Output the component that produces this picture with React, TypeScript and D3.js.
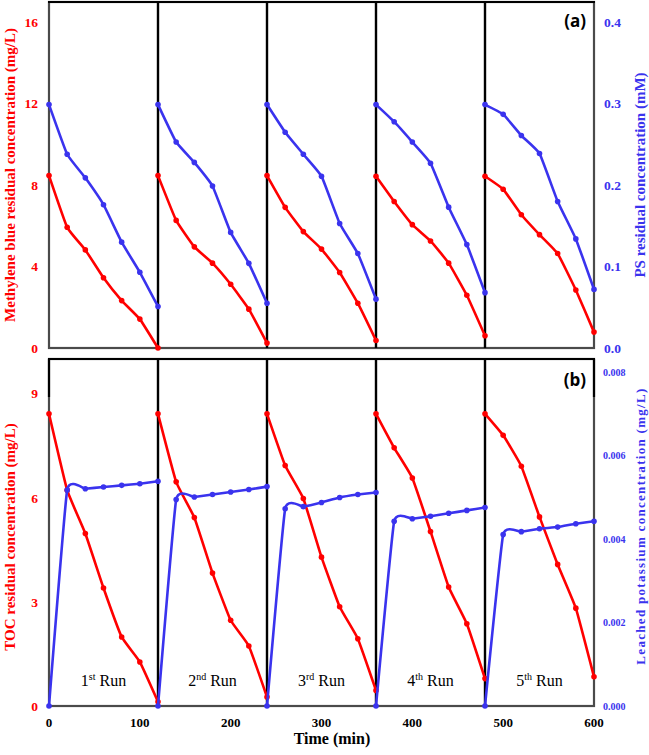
import React from "react";
import * as d3 from "d3";

// time points inside each run (min, relative to run start)
const stepTimes = [0, 20, 40, 60, 80, 100, 120];
const runLength = 120;
const runNumbers = ["1", "2", "3", "4", "5"];
const runSuffix = ["st", "nd", "rd", "th", "th"];

// panel (a)
const mbRuns = [
  [8.47, 5.93, 4.82, 3.45, 2.33, 1.42, 0.0],
  [8.47, 6.27, 4.97, 4.17, 3.13, 1.91, 0.24],
  [8.47, 6.91, 5.72, 4.86, 3.71, 2.2, 0.37],
  [8.44, 7.2, 6.06, 5.26, 4.17, 2.59, 0.6],
  [8.44, 7.8, 6.55, 5.57, 4.64, 2.85, 0.78],
];
const psRuns = [
  [0.299, 0.238, 0.209, 0.176, 0.13, 0.093, 0.051],
  [0.299, 0.253, 0.228, 0.199, 0.142, 0.104, 0.055],
  [0.299, 0.265, 0.238, 0.211, 0.153, 0.116, 0.06],
  [0.299, 0.278, 0.253, 0.227, 0.173, 0.127, 0.068],
  [0.299, 0.287, 0.261, 0.239, 0.18, 0.134, 0.072],
];

// panel (b)
const tocRuns = [
  [8.42, 6.22, 4.97, 3.4, 1.99, 1.27, 0.12],
  [8.42, 6.46, 5.43, 3.83, 2.47, 1.73, 0.26],
  [8.42, 6.93, 5.98, 4.29, 2.86, 1.94, 0.45],
  [8.42, 7.44, 6.57, 5.03, 3.43, 2.37, 0.79],
  [8.42, 7.8, 6.91, 5.45, 4.08, 2.82, 0.84],
];
const kRuns = [
  [0, 0.00518, 0.00521, 0.00525, 0.00529, 0.00533, 0.00539],
  [0, 0.00495, 0.00501, 0.00507, 0.00513, 0.00519, 0.00526],
  [0, 0.00473, 0.00478, 0.00488, 0.005, 0.00507, 0.00512],
  [0, 0.00443, 0.00449, 0.00455, 0.00462, 0.00469, 0.00476],
  [0, 0.00411, 0.00418, 0.00425, 0.00429, 0.00437, 0.00443],
];

const xTicks = [0, 100, 200, 300, 400, 500, 600];
const mbTicks = [0, 4, 8, 12, 16];
const psTicks = [0, 0.1, 0.2, 0.3, 0.4];
const tocTicks = [0, 3, 6, 9];
const kTicks = [0, 0.002, 0.004, 0.006, 0.008];

const RED = "#ff0000";
const BLUE = "#3a33ee";
const SERIF = "'Liberation Serif', 'Times New Roman', serif";
const SANS = "'Open Sans', 'DejaVu Sans', sans-serif";

const W = 649;
const H = 755;
const left = 49;
const right = 594;

const x = d3.scaleLinear().domain([0, 600]).range([left, right]);

const topA = 2;
const botA = 348;
const topB = 359;
const botB = 706;

const yMB = d3.scaleLinear().domain([0, 17]).range([botA, topA]);
const yPS = d3.scaleLinear().domain([0, 0.425]).range([botA, topA]);
const yTOC = d3.scaleLinear().domain([0, 10]).range([botB, topB]);
const yK = d3.scaleLinear().domain([0, 0.00832]).range([botB, topB]);

function Series({ runs, y, color }: { runs: number[][]; y: d3.ScaleLinear<number, number>; color: string }) {
  const line = d3
    .line<[number, number]>()
    .x((d) => x(d[0]))
    .y((d) => y(d[1]))
    .curve(d3.curveCardinal.tension(0.65));
  return (
    <g>
      {runs.map((vals, r) => {
        const pts: [number, number][] = vals.map((v, i) => [r * runLength + stepTimes[i], v]);
        return (
          <g key={r}>
            <path d={line(pts) || ""} fill="none" stroke={color} strokeWidth={2.6} />
            {pts.map((p, i) => (
              <circle key={i} cx={x(p[0])} cy={y(p[1])} r={2.8} fill={color} />
            ))}
          </g>
        );
      })}
    </g>
  );
}

function Frame({ top, bottom, blackSide }: { top: number; bottom: number; blackSide: number }) {
  return (
    <g>
      <rect x={left} y={top} width={right - left} height={bottom - top} fill="none" stroke="#4a4a4a" strokeWidth={2.2} />
      <line x1={left - 1} x2={right + 1} y1={top} y2={top} stroke="#000" strokeWidth={2.2} />
      {blackSide > 0 && (
        <g>
          <line x1={left} x2={left} y1={top} y2={top + blackSide} stroke="#000" strokeWidth={2.2} />
          <line x1={right} x2={right} y1={top} y2={top + blackSide} stroke="#000" strokeWidth={2.2} />
        </g>
      )}
    </g>
  );
}

function Dividers({ top, bottom }: { top: number; bottom: number }) {
  return (
    <g>
      {[1, 2, 3, 4].map((i) => (
        <line key={i} x1={x(i * runLength)} x2={x(i * runLength)} y1={top} y2={bottom} stroke="#000" strokeWidth={2.4} />
      ))}
    </g>
  );
}

export default function App() {
  return (
    <svg width={W} height={H} style={{ position: "absolute", left: 0, top: 0, background: "#fff" }}>
      {/* panel (a) */}
      <Frame top={topA} bottom={botA} blackSide={0} />
      <Dividers top={topA} bottom={botA} />
      <Series runs={psRuns} y={yPS} color={BLUE} />
      <Series runs={mbRuns} y={yMB} color={RED} />
      {mbTicks.map((t) => (
        <text key={t} x={38} y={yMB(t)} dy="0.35em" textAnchor="end" fontFamily={SERIF} fontWeight="bold" fontSize={13.5} fill={RED}>
          {t}
        </text>
      ))}
      {psTicks.map((t) => (
        <text key={t} x={604} y={yPS(t)} dy="0.35em" textAnchor="start" fontFamily={SERIF} fontWeight="bold" fontSize={13.5} fill={BLUE}>
          {t.toFixed(1)}
        </text>
      ))}
      <text transform={`translate(10,175) rotate(-90)`} textAnchor="middle" dominantBaseline="central" fontFamily={SERIF} fontWeight="bold" fontSize={15} fill={RED}>
        Methylene blue residual concentration (mg/L)
      </text>
      <text transform={`translate(640,175) rotate(-90)`} textAnchor="middle" dominantBaseline="central" fontFamily={SERIF} fontWeight="bold" fontSize={15} fill={BLUE}>
        PS residual concentration (mM)
      </text>
      <text x={586} y={27} textAnchor="end" fontFamily={SANS} fontWeight="bold" fontSize={17} fill="#000">
        (a)
      </text>

      {/* panel (b) */}
      <Frame top={topB} bottom={botB} blackSide={38} />
      <Dividers top={topB} bottom={botB} />
      <Series runs={tocRuns} y={yTOC} color={RED} />
      <Series runs={kRuns} y={yK} color={BLUE} />
      {tocTicks.map((t) => (
        <text key={t} x={38} y={yTOC(t)} dy="0.35em" textAnchor="end" fontFamily={SERIF} fontWeight="bold" fontSize={13.5} fill={RED}>
          {t}
        </text>
      ))}
      {kTicks.map((t) => (
        <text key={t} x={603} y={yK(t)} dy="0.35em" textAnchor="start" fontFamily={SERIF} fontWeight="bold" fontSize={10} fill={BLUE}>
          {t.toFixed(3)}
        </text>
      ))}
      <text transform={`translate(10,537) rotate(-90)`} textAnchor="middle" dominantBaseline="central" fontFamily={SERIF} fontWeight="bold" fontSize={15} fill={RED}>
        TOC residual concentration (mg/L)
      </text>
      <text transform={`translate(640,526) rotate(-90)`} textAnchor="middle" dominantBaseline="central" fontFamily={SERIF} fontWeight="bold" fontSize={13} letterSpacing={1.3} fill={BLUE}>
        Leached potassium concentration (mg/L)
      </text>
      <text x={586} y={386} textAnchor="end" fontFamily={SANS} fontWeight="bold" fontSize={17} fill="#000">
        (b)
      </text>
      {runNumbers.map((n, i) => (
        <text key={n} x={x(i * runLength + runLength / 2)} y={686} textAnchor="middle" fontFamily={SERIF} fontSize={16} fill="#000">
          {n}
          <tspan fontSize={10} dy={-6}>{runSuffix[i]}</tspan>
          <tspan dy={6}> Run</tspan>
        </text>
      ))}

      {/* x axis */}
      {xTicks.map((t) => (
        <text key={t} x={x(t)} y={727} textAnchor="middle" fontFamily={SERIF} fontWeight="bold" fontSize={13} fill="#000">
          {t}
        </text>
      ))}
      <text x={332} y={744} textAnchor="middle" fontFamily={SERIF} fontWeight="bold" fontSize={16} fill="#000">
        Time (min)
      </text>
    </svg>
  );
}
